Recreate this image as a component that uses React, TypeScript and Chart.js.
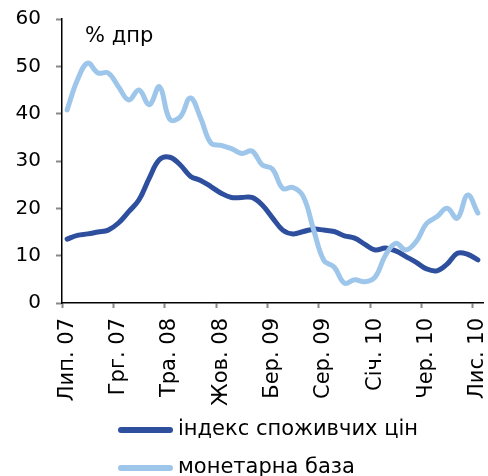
import React, { useEffect, useRef } from 'react';
import { Chart, registerables } from 'chart.js';

Chart.register(...registerables);

const months = [
  'Лип. 07', 'Сер. 07', 'Вер. 07', 'Жов. 07', 'Лис. 07', 'Грг. 07',
  'Січ. 08', 'Лют. 08', 'Бер. 08', 'Кві. 08', 'Тра. 08', 'Чер. 08',
  'Лип. 08', 'Сер. 08', 'Вер. 08', 'Жов. 08', 'Лис. 08', 'Грг. 08',
  'Січ. 09', 'Лют. 09', 'Бер. 09', 'Кві. 09', 'Тра. 09', 'Чер. 09',
  'Лип. 09', 'Сер. 09', 'Вер. 09', 'Жов. 09', 'Лис. 09', 'Грг. 09',
  'Січ. 10', 'Лют. 10', 'Бер. 10', 'Кві. 10', 'Тра. 10', 'Чер. 10',
  'Лип. 10', 'Сер. 10', 'Вер. 10', 'Жов. 10', 'Лис. 10',
];

const cpi = [
  13.5, 14.3, 14.6, 15.0, 15.4, 16.9, 19.3, 21.8, 26.4, 30.3,
  30.8, 29.2, 26.8, 25.9, 24.6, 23.2, 22.3, 22.3, 22.3, 20.7,
  18.0, 15.4, 14.6, 15.1, 15.6, 15.4, 15.1, 14.2, 13.7, 12.4,
  11.2, 11.6, 11.0, 9.8, 8.6, 7.2, 6.8, 8.2, 10.5, 10.3,
  9.1,
];

const monetaryBase = [
  40.8, 47.1, 50.7, 48.6, 48.6, 45.7, 42.9, 45.0, 41.9, 45.7,
  38.8, 39.3, 43.3, 39.1, 33.8, 33.3, 32.6, 31.6, 32.1, 29.2,
  28.3, 24.2, 24.4, 22.5, 15.5, 9.0, 7.6, 4.2, 4.9, 4.5,
  5.5, 10.1, 12.6, 11.2, 13.0, 16.8, 18.2, 20.0, 17.9, 22.8,
  19.0,
];

const seriesNames = ['індекс споживчих цін', 'монетарна база'];
const seriesColors = ['#2E4F9E', '#9DC6EA'];
const unitLabel = '% дпр';
const labelEvery = 5;

const FONT = '"DejaVu Sans", Verdana, sans-serif';

const overlayPlugin = {
  id: 'overlay',
  afterDraw(chart: any) {
    const ctx = chart.ctx;
    const area = chart.chartArea;
    ctx.save();
    ctx.fillStyle = '#000';
    ctx.font = `21px ${FONT}`;
    ctx.textBaseline = 'middle';
    ctx.textAlign = 'left';
    ctx.fillText(unitLabel, area.left + 23, area.top + 18);

    // legend
    const rows = [430, 468];
    chart.data.datasets.forEach((ds: any, i: number) => {
      const y = rows[i];
      ctx.strokeStyle = ds.borderColor;
      ctx.lineWidth = 6;
      ctx.lineCap = 'round';
      ctx.beginPath();
      ctx.moveTo(121, y);
      ctx.lineTo(170, y);
      ctx.stroke();
      ctx.fillStyle = '#000';
      ctx.fillText(ds.label, 178, y);
    });
    ctx.restore();
  },
};

export default function App() {
  const ref = useRef<HTMLCanvasElement | null>(null);

  useEffect(() => {
    if (!ref.current) return;
    const chart = new Chart(ref.current, {
      type: 'line',
      data: {
        labels: months,
        datasets: [
          {
            label: seriesNames[0],
            data: cpi,
            borderColor: seriesColors[0],
            backgroundColor: seriesColors[0],
            borderWidth: 5,
            pointRadius: 0,
            tension: 0.4,
            borderCapStyle: 'round',
            order: 1,
          },
          {
            label: seriesNames[1],
            data: monetaryBase,
            borderColor: seriesColors[1],
            backgroundColor: seriesColors[1],
            borderWidth: 5,
            pointRadius: 0,
            tension: 0.4,
            borderCapStyle: 'round',
            order: 0,
          },
        ],
      },
      options: {
        responsive: false,
        animation: false,
        layout: { padding: { top: 19, right: 5, bottom: 63, left: 0 } },
        plugins: {
          legend: { display: false },
          tooltip: { enabled: false },
          title: { display: false },
        },
        scales: {
          x: {
            type: 'category',
            offset: true,
            afterFit: (s: any) => {
              s.height = 110;
              s.paddingLeft = 0;
              s.paddingRight = 0;
            },
            grid: {
              offset: true,
              drawOnChartArea: false,
              drawTicks: true,
              tickLength: 5,
              tickColor: (c: any) => (c.index % labelEvery === 0 && c.index < months.length ? '#888' : 'rgba(0,0,0,0)'),
              tickWidth: 2,
            },
            border: { display: true, color: '#000', width: 1.5 },
            ticks: {
              autoSkip: false,
              maxRotation: 90,
              minRotation: 90,
              padding: 10,
              color: '#000',
              font: { family: FONT, size: 21 },
              callback: (_v: any, i: number) => (i % labelEvery === 0 ? months[i] : ''),
            },
          },
          y: {
            min: 0,
            max: 60,
            afterFit: (s: any) => {
              s.width = 62;
              s.paddingTop = 0;
              s.paddingBottom = 0;
            },
            grid: {
              drawOnChartArea: false,
              drawTicks: true,
              tickLength: 6,
              tickColor: '#888',
              tickWidth: 2,
            },
            border: { display: true, color: '#000', width: 1.5 },
            ticks: {
              stepSize: 10,
              padding: 15,
              color: '#000',
              font: { family: FONT, size: 20 },
            },
          },
        },
      },
      plugins: [overlayPlugin],
    });
    return () => chart.destroy();
  }, []);

  return (
    <div style={{ position: 'absolute', left: 0, top: 0, width: 488, height: 476, background: '#fff' }}>
      <canvas ref={ref} width={488} height={476} style={{ display: 'block' }} />
    </div>
  );
}
